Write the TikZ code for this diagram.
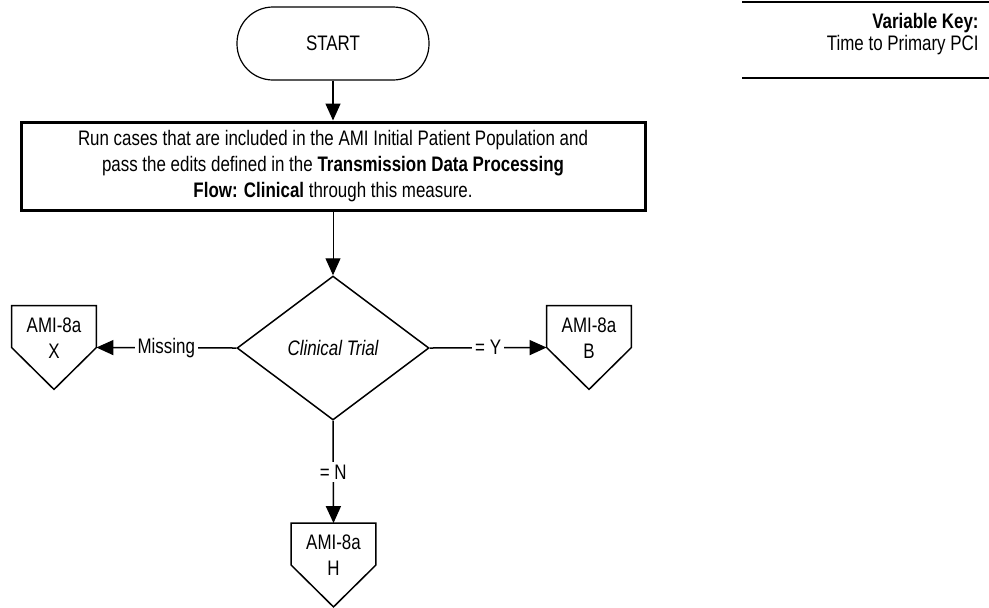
\documentclass[tikz,border=0pt]{standalone}
\usepackage{fontspec}
\setmainfont{Liberation Sans}[FakeStretch=0.806]
\usetikzlibrary{arrows.meta,shapes.geometric}
\tikzset{
  flowtext/.style={font=\fontsize{10.5}{13}\selectfont, align=center},
  terminal/.style={draw, line width=0.6pt, rounded corners=18pt, minimum width=96pt, minimum height=36.5pt, flowtext},
  process/.style={draw, line width=1.5pt, minimum width=312pt, minimum height=44pt, inner sep=0pt, flowtext},
  decision/.style={draw, diamond, line width=0.75pt, aspect=1.333, minimum width=96pt, minimum height=72pt, inner sep=0pt, flowtext},
  offpage/.style={minimum width=42pt, minimum height=41.5pt, inner sep=0pt},
  pentagon/.style={draw, line width=0.75pt},
  flowarrow/.style={-{Triangle[length=8.5pt,width=7.5pt]}, line width=0.75pt},
  edgelabel/.style={fill=white, inner sep=1.5pt, flowtext}
}
\begin{document}
\begin{tikzpicture}[x=0.5pt,y=-0.5pt]
  \useasboundingbox (0,0) rectangle (989,607);
  % main flow
  \node[terminal] (start) at (333,43.5) {START};
  \node[process] (run) at (333,166) {Run cases that are included in the AMI Initial Patient Population and\\
    pass the edits defined in the \textbf{Transmission Data Processing}\\
    \textbf{Flow: Clinical} through this measure.};
  \node[decision] (trial) at (333,348) {\itshape Clinical Trial};
  % off-page connectors
  \node[offpage] (outx) at (54,347.5) {};
  \node[offpage] (outb) at (589,347.5) {};
  \node[offpage] (outh) at (333.5,565) {};
  \draw[pentagon] (outx.north west) -- (outx.north east) -- (outx.east) -- (outx.south) -- (outx.west) -- cycle;
  \draw[pentagon] (outb.north west) -- (outb.north east) -- (outb.east) -- (outb.south) -- (outb.west) -- cycle;
  \draw[pentagon] (outh.north west) -- (outh.north east) -- (outh.east) -- (outh.south) -- (outh.west) -- cycle;
  \node[flowtext] (txtx) at (54,338) {AMI-8a\\X};
  \node[flowtext] (txtb) at (589,338) {AMI-8a\\B};
  \node[flowtext] (txth) at (333.5,555) {AMI-8a\\H};
  \draw[flowarrow] (start) -- (run);
  \draw[flowarrow, line width=0.5pt] (run) -- (trial);
  \draw[flowarrow] (trial.west) -- node[edgelabel] {Missing} (outx.east);
  \draw[flowarrow] (trial.east) -- node[edgelabel] {= Y} (outb.west);
  \draw[flowarrow] (trial.south) -- node[edgelabel] {= N} (outh.north);
  % variable key
  \coordinate (keytl) at (742,2);
  \coordinate (keytr) at (989,2);
  \coordinate (keybl) at (742,78);
  \coordinate (keybr) at (989,78);
  \draw[line width=1pt] (keytl) -- (keytr);
  \draw[line width=1pt] (keybl) -- (keybr);
  \node[anchor=east, align=right, inner sep=0pt, font=\fontsize{10.5}{9.5}\selectfont] (key) at (979,34) {\textbf{Variable Key:}\\Time to Primary PCI};
\end{tikzpicture}
\end{document}
